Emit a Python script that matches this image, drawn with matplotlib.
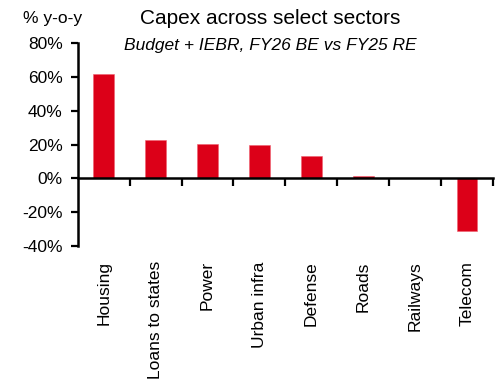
import numpy as np
import matplotlib.pyplot as plt
import matplotlib.ticker as mticker
import matplotlib.transforms as mtransforms

plt.rcParams['font.family'] = ['Liberation Sans', 'DejaVu Sans']

# data
sectors = ['Housing', 'Loans to states', 'Power', 'Urban infra', 'Defense', 'Roads', 'Railways', 'Telecom']
yoy = [62.0, 22.5, 20.1, 19.9, 13.0, 1.4, 0.0, -31.3]
yticks = [-40, -20, 0, 20, 40, 60, 80]

fig = plt.figure(figsize=(5.02, 3.82), dpi=100)
ax = fig.add_axes([0.155, 0.356, 0.827, 0.531])

x = np.arange(len(sectors))
ax.bar(x, yoy, width=0.4, color='#DC0018', edgecolor='#F06070', linewidth=0.4, zorder=2)

ax.set_xlim(-0.5, len(sectors) - 0.5)
ax.set_ylim(-40, 80)
ax.set_yticks(yticks)
ax.yaxis.set_major_formatter(mticker.FuncFormatter(lambda v, p: '%d%%' % v))
ax.tick_params(axis='y', direction='out', length=5, width=1.6, labelsize=12.5, pad=6)

for s in ['top', 'right']:
    ax.spines[s].set_visible(False)
ax.spines['left'].set_linewidth(1.8)
ax.spines['bottom'].set_position(('data', 0))
ax.spines['bottom'].set_linewidth(1.8)

# ticks at category boundaries on the zero line
ax.set_xticks(list(x + 0.5))
ax.set_xticklabels([])
ax.tick_params(axis='x', direction='out', length=6, width=1.6)

trans = mtransforms.blended_transform_factory(ax.transData, ax.transAxes)
for i, name in enumerate(sectors):
    ax.text(i, -0.075, name, transform=trans, rotation=90, ha='center', va='top', fontsize=12.5)

fig.text(0.538, 0.952, 'Capex across select sectors', ha='center', va='center', fontsize=15)
fig.text(0.538, 0.882, 'Budget + IEBR, FY26 BE vs FY25 RE', ha='center', va='center',
         fontsize=12.5, style='italic')
fig.text(0.045, 0.952, '% y-o-y', ha='left', va='center', fontsize=12.5)

fig.savefig('out.png', dpi=100)
